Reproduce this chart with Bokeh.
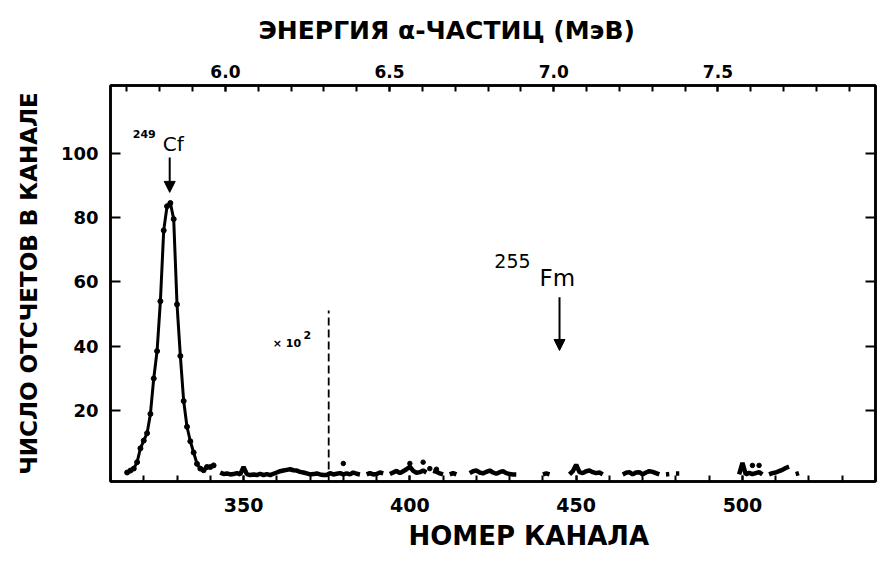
import math
from bokeh.plotting import figure
from bokeh.models import (Range1d, LinearAxis, SingleIntervalTicker, FixedTicker,
                          PrintfTickFormatter, Label, Arrow, NormalHead, Title,
                          CustomLabelingPolicy)
from bokeh.embed import file_html
from bokeh.resources import INLINE

nan = float("nan")

# ---- data ----
peak_channels = list(range(315, 342))
peak_counts = [0.8, 1.4, 2.0, 4.0, 8.3, 10.7, 13.0, 19.0, 30.0, 38.5,
               54.0, 76.0, 83.5, 84.5, 79.5, 53.0, 37.0, 23.0, 15.0, 10.5,
               7.0, 3.5, 2.0, 1.5, 2.5, 2.5, 3.0]

noise_channels = list(range(342, 518))
noise_counts = [
    nan, 0.8, 0.3, 0.5, 0.2, 0.3, 0.6, 0.2, 2.5, 0.3,          # 342-351
    0.0, 0.2, 0.0, 0.4, 0.0, 0.3, 0.0, 0.4, 0.8, 1.2,          # 352-361
    1.4, 1.6, 1.8, 1.5, 1.4, 1.0, 0.8, 0.5, 0.2, 0.3,          # 362-371
    0.5, 0.2, 0.0, 0.0, 0.6, 0.2, 0.4, 0.6, 0.2, 0.5,          # 372-381
    0.2, 0.8, 0.4, 0.2, nan, 0.2, 0.6, 0.2, 0.3, 0.8,          # 382-391
    0.5, nan, 0.3, 0.8, 1.3, 0.6, 1.2, 1.8, 2.6, 1.3,          # 392-401
    0.7, 0.9, 1.4, 0.8, nan, 1.3, 1.0, 0.5, 0.2, nan,          # 402-411
    0.2, 0.6, 0.2, nan, nan, nan, 0.6, 1.2, 1.4, 0.8,          # 412-421
    0.5, 1.0, 1.4, 0.8, 0.4, 0.9, 1.2, 0.6, 0.3, 0.2,          # 422-431
    0.2, nan, nan, nan, nan, nan, nan, nan, 0.2, 0.5,          # 432-441
    0.2, nan, nan, nan, nan, nan, 0.2, 1.2, 3.2, 0.9,          # 442-451
    0.6, 1.2, 1.4, 0.9, 0.6, 0.8, 0.2, nan, nan, nan,          # 452-461
    nan, nan, 0.2, 0.7, 0.9, 0.2, 0.8, 0.9, 0.2, 0.8,          # 462-471
    1.2, 1.0, 0.6, 0.2, nan, 0.2, 0.3, nan, 0.5, 0.5,          # 472-481
    nan, nan, nan, nan, nan, nan, nan, nan, nan, nan,          # 482-491
    nan, nan, nan, nan, nan, nan, nan, 0.2, 3.8, 0.2,          # 492-501
    0.7, 0.3, 0.6, 0.9, 0.2, nan, 0.2, 0.6, 0.8, 1.2,          # 502-511
    1.6, 2.2, 2.6, nan, 0.3, 0.6,                              # 512-517
]

dot_channels = [380, 400, 404, 406, 408, 503, 505]
dot_counts = [3.6, 3.6, 4.0, 2.0, 1.8, 3.0, 3.0]

scale_change_channel = 375.6
scale_change_top = 51.1

cf_arrow_channel = 327.8
cf_arrow_from, cf_arrow_to = 98.6, 87.8
fm_arrow_channel = 445.0
fm_arrow_from, fm_arrow_to = 55.2, 38.7

x_ticks_major = 50
x_ticks_minor_count = 5
y_ticks = [20, 40, 60, 80, 100]
energy_tick_interval = 0.5

FONT = "DejaVu Sans"

p = figure(width=880, height=561, output_backend="svg", toolbar_location=None,
           x_range=Range1d(310, 540), y_range=Range1d(-2, 121),
           min_border_left=110, min_border_right=0, min_border_top=85,
           min_border_bottom=80, x_axis_location=None, y_axis_location=None)
p.background_fill_color = "white"
p.border_fill_color = "white"
p.outline_line_color = "black"
p.outline_line_width = 2.5
p.xgrid.visible = False
p.ygrid.visible = False

p.extra_x_ranges = {"energy": Range1d(5.65, 7.98)}


def style_axis(ax, tick_len, size="17px"):
    ax.axis_line_color = "black"
    ax.axis_line_width = 2.5
    ax.major_tick_in = tick_len
    ax.major_tick_out = 0
    ax.minor_tick_in = tick_len
    ax.minor_tick_out = 0
    ax.major_tick_line_width = 2
    ax.minor_tick_line_width = 2
    ax.major_tick_line_color = "black"
    ax.minor_tick_line_color = "black"
    ax.major_label_text_font = FONT
    ax.major_label_text_font_style = "bold"
    ax.major_label_text_color = "black"
    ax.major_label_text_font_size = size


bottom = LinearAxis(ticker=SingleIntervalTicker(interval=x_ticks_major,
                                                num_minor_ticks=x_ticks_minor_count))
style_axis(bottom, 6, size="19px")
bottom.major_label_standoff = 16
p.add_layout(bottom, "below")

top = LinearAxis(x_range_name="energy",
                 ticker=SingleIntervalTicker(interval=energy_tick_interval, num_minor_ticks=5),
                 formatter=PrintfTickFormatter(format="%.1f"))
style_axis(top, 6, size="17px")
top.major_label_standoff = 8
p.add_layout(top, "above")

left = LinearAxis(ticker=FixedTicker(ticks=y_ticks, minor_ticks=[]))
style_axis(left, 10, size="18px")
left.major_label_standoff = 12
left.axis_label = "ЧИСЛО ОТСЧЕТОВ В КАНАЛЕ"
left.axis_label_text_font = FONT
left.axis_label_text_font_style = "bold"
left.axis_label_text_font_size = "23px"
left.axis_label_text_color = "black"
left.axis_label_standoff = 16
p.add_layout(left, "left")

right = LinearAxis(ticker=FixedTicker(ticks=y_ticks, minor_ticks=[]))
style_axis(right, 10, size="1px")
right.major_label_standoff = 0
right.major_label_policy = CustomLabelingPolicy(
    code="for (const i of indices) indices.unset(i)")
p.add_layout(right, "right")

# axis titles placed as in the original (off-centre)
p.add_layout(Title(text="ЭНЕРГИЯ α-ЧАСТИЦ (МэВ)", align="left", offset=148,
                   vertical_align="top",
                   text_font=FONT, text_font_style="bold", text_font_size="25px",
                   text_color="black", standoff=30), "above")
p.add_layout(Title(text="НОМЕР КАНАЛА", align="left", offset=298,
                   text_font=FONT, text_font_style="bold", text_font_size="26px",
                   text_color="black", standoff=8), "below")

# spectrum
p.line(peak_channels, peak_counts, line_color="black", line_width=3)
p.scatter(peak_channels, peak_counts, size=5, color="black")
p.line(noise_channels, noise_counts, line_color="black", line_width=4.5)
p.scatter(dot_channels, dot_counts, size=4.5, color="black")

# scale change marker
p.segment(x0=[scale_change_channel], y0=[-2], x1=[scale_change_channel], y1=[scale_change_top],
          line_color="black", line_width=1.8, line_dash="8 4")

p.add_layout(Label(x=358.8, y=38.7, text="× 10", text_font=FONT, text_font_style="bold",
                   text_font_size="11px", text_color="black"))
p.add_layout(Label(x=368.0, y=42.4, text="2", text_font=FONT, text_font_style="bold",
                   text_font_size="11px", text_color="black"))

# isotope labels and arrows
p.add_layout(Label(x=316.7, y=104.8, text="249", text_font=FONT, text_font_style="bold",
                   text_font_size="11px", text_color="black"))
p.add_layout(Label(x=325.7, y=99.0, text="Cf", text_font=FONT,
                   text_font_size="20px", text_color="black"))
p.add_layout(Arrow(end=NormalHead(size=11, fill_color="black", line_color="black"),
                   x_start=cf_arrow_channel, y_start=cf_arrow_from,
                   x_end=cf_arrow_channel, y_end=cf_arrow_to,
                   line_color="black", line_width=2))

p.add_layout(Label(x=425.4, y=64.4, text="255", text_font=FONT,
                   text_font_size="19px", text_color="black"))
p.add_layout(Label(x=439.0, y=57.1, text="Fm", text_font=FONT,
                   text_font_size="23px", text_color="black"))
p.add_layout(Arrow(end=NormalHead(size=11, fill_color="black", line_color="black"),
                   x_start=fm_arrow_channel, y_start=fm_arrow_from,
                   x_end=fm_arrow_channel, y_end=fm_arrow_to,
                   line_color="black", line_width=2))

open("out.html", "w").write(file_html(p, INLINE))
